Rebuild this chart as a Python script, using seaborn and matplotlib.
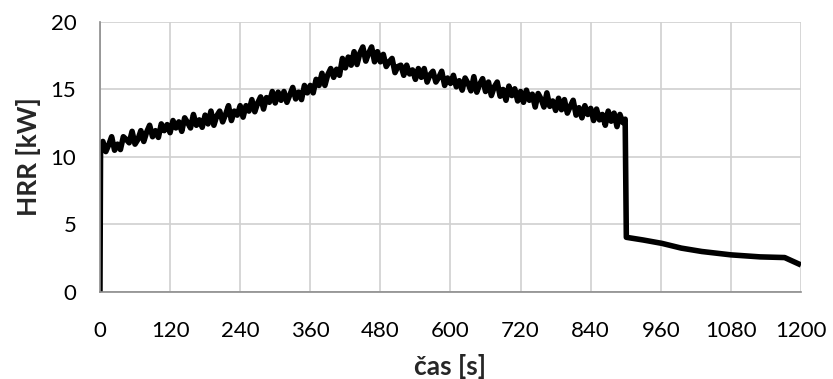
import numpy as np
import pandas as pd
import matplotlib
matplotlib.use("Agg")
import matplotlib.pyplot as plt
import seaborn as sns

# time [s]
t_start = [0, 1]
hrr_start = [0.0, 10.6]

t_noisy = list(range(5, 900, 5))
hrr_noisy = [
    11.15, 10.4, 10.9, 11.5, 10.5, 10.95, 10.55, 11.5, 11.3, 11.05, 11.9, 10.95,
    11.3, 11.95, 11.15, 11.85, 12.35, 11.5, 11.95, 11.45, 12.45, 11.95, 12.4, 11.8,
    12.7, 12.15, 12.6, 11.9, 12.9, 12.55, 12.15, 13.15, 12.35, 12.75, 12.2, 13.1,
    12.45, 13.4, 12.35, 13.05, 13.4, 12.6, 13.15, 13.8, 12.7, 13.4, 13.1, 13.8,
    12.95, 13.8, 13.4, 14.25, 13.35, 14.0, 14.45, 13.55, 14.4, 14.05, 14.85, 14.0,
    14.8, 14.2, 14.85, 14.05, 14.6, 15.15, 14.3, 14.8, 14.25, 15.3, 14.75, 15.3,
    14.75, 15.75, 15.3, 16.2, 15.3, 16.1, 16.55, 15.9, 16.5, 16.05, 17.3, 16.6,
    17.4, 16.8, 17.8, 16.85, 17.7, 18.15, 17.1, 17.7, 18.15, 17.05, 17.8, 17.05,
    17.6, 16.7, 17.05, 17.3, 16.25, 16.7, 16.8, 16.05, 16.8, 16.15, 16.45, 15.75,
    16.55, 15.9, 16.55, 15.55, 16.1, 16.35, 15.55, 15.9, 16.35, 15.3, 15.85, 15.45,
    16.05, 15.2, 15.65, 14.95, 15.85, 15.45, 14.9, 15.95, 14.8, 15.4, 15.8, 14.85,
    15.55, 14.55, 15.2, 15.55, 14.5, 15.0, 14.2, 15.25, 14.55, 15.05, 14.15, 14.85,
    14.05, 14.95, 14.2, 14.65, 13.7, 14.7, 14.3, 13.7, 14.75, 13.75, 14.15, 13.45,
    14.35, 13.5, 14.25, 13.25, 13.75, 14.2, 13.1, 13.65, 12.9, 13.8, 13.15, 13.6,
    12.7, 13.55, 12.75, 13.15, 12.35, 13.4, 12.65, 13.25, 12.25, 13.15, 12.55,
]

t_tail = [899, 901, 930, 962, 995, 1030, 1080, 1130, 1172, 1200]
hrr_tail = [12.8, 4.05, 3.85, 3.6, 3.25, 3.0, 2.75, 2.6, 2.55, 2.0]

x_ticks = [0, 120, 240, 360, 480, 600, 720, 840, 960, 1080, 1200]
y_ticks = [0, 5, 10, 15, 20]

df = pd.DataFrame({
    "t": t_start + t_noisy + t_tail,
    "hrr": hrr_start + hrr_noisy + hrr_tail,
})

sns.set_theme(style="white")
plt.rcParams["font.family"] = ["Lato", "DejaVu Sans"]

fig = plt.figure(figsize=(8.33, 3.79), dpi=100)
ax = fig.add_axes([0.120, 0.2296, 0.8416, 0.7124])

sns.lineplot(data=df, x="t", y="hrr", ax=ax, sort=False, estimator=None,
             color="black", linewidth=4.0, solid_joinstyle="round",
             solid_capstyle="butt")

ax.set_xlim(0, 1200)
ax.set_ylim(0, 20)
ax.set_xticks(x_ticks)
ax.set_yticks(y_ticks)
ax.grid(True, color="#d0d0d0", linewidth=1.2)
ax.set_axisbelow(True)
for s in ["top", "right"]:
    ax.spines[s].set_visible(False)
for s in ["left", "bottom"]:
    ax.spines[s].set_color("#8c8c8c")
    ax.spines[s].set_linewidth(1.2)
ax.tick_params(axis="both", which="major", direction="out", length=6,
               width=1.2, color="#8c8c8c", labelsize=16, labelcolor="black")
ax.tick_params(axis="x", pad=15)
ax.tick_params(axis="y", pad=11)
ax.set_xlabel("čas [s]", fontsize=19, fontweight="bold", labelpad=9)
ax.set_ylabel("HRR [kW]", fontsize=19, fontweight="bold", labelpad=7)

fig.savefig("out.png", dpi=100)
